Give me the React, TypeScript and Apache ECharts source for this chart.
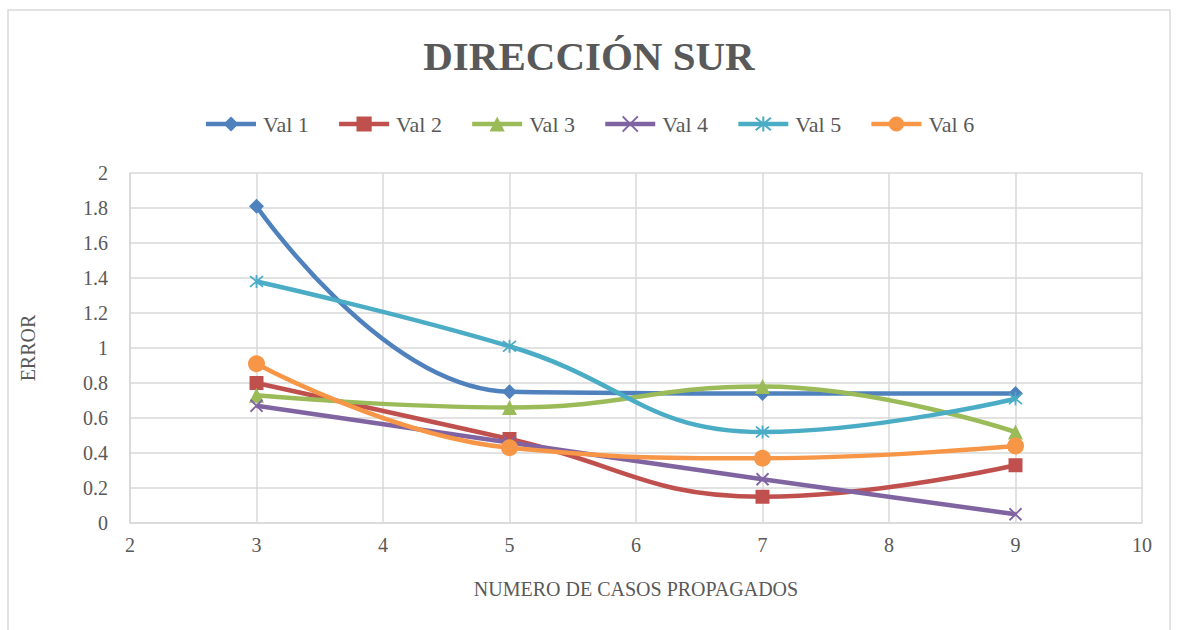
import React, { useEffect, useRef } from "react";
import * as echarts from "echarts";

const xValues = [3, 5, 7, 9];
const seriesNames = ["Val 1", "Val 2", "Val 3", "Val 4", "Val 5", "Val 6"];
const val1 = [1.81, 0.75, 0.74, 0.74];
const val2 = [0.8, 0.48, 0.15, 0.33];
const val3 = [0.73, 0.66, 0.78, 0.52];
const val4 = [0.67, 0.46, 0.25, 0.05];
const val5 = [1.38, 1.01, 0.52, 0.71];
const val6 = [0.91, 0.43, 0.37, 0.44];
const allValues = [val1, val2, val3, val4, val5, val6];
const colors = ["#4F81BD", "#C0504D", "#9BBB59", "#8064A2", "#4BACC6", "#F79646"];

const FONT = "'Liberation Serif', 'DejaVu Serif', serif";
const TEXT = "#595959";

const xPath = "path://M0,0L10,10M10,0L0,10";
const starPath = "path://M0,0L10,10M10,0L0,10M5,-1L5,11";

const symbols: any[] = ["diamond", "rect", "triangle", xPath, starPath, "circle"];
const symbolSizes = [15, 14, 15, 12, 13, 17];

export default function App() {
  const ref = useRef<HTMLDivElement>(null);
  useEffect(() => {
    document.body.style.margin = "0";
    const chart = echarts.init(ref.current!, null, { renderer: "svg" });
    const series = seriesNames.map((name, i) => {
      const stroked = i === 3 || i === 4;
      return {
        name,
        type: "line",
        smooth: 0.45,
        data: xValues.map((x, j) => [x, allValues[i][j]]),
        symbol: symbols[i],
        symbolSize: symbolSizes[i],
        showSymbol: true,
        lineStyle: { color: colors[i], width: 4.5 },
        itemStyle: stroked
          ? { color: colors[i], borderColor: colors[i], borderWidth: 1.8 }
          : { color: colors[i], borderWidth: 0 },
        emphasis: { disabled: true },
        z: 2 + i,
      };
    });
    chart.setOption({
      animation: false,
      backgroundColor: "#ffffff",
      title: {
        text: "DIRECCIÓN SUR",
        left: "center",
        top: 30,
        textStyle: { fontFamily: FONT, fontSize: 41, fontWeight: "bold", color: TEXT },
      },
      legend: {
        top: 108,
        left: "center",
        itemWidth: 50,
        itemHeight: 19,
        itemGap: 28,
        data: seriesNames,
        lineStyle: { width: 4.5 },
        textStyle: { fontFamily: FONT, fontSize: 22, color: TEXT, padding: [0, 0, 0, 2] },
      },
      grid: { left: 130, top: 173, right: 36, bottom: 107, containLabel: false },
      xAxis: {
        type: "value",
        min: 2,
        max: 10,
        interval: 1,
        name: "NUMERO DE CASOS PROPAGADOS",
        nameLocation: "middle",
        nameGap: 56,
        nameTextStyle: { fontFamily: FONT, fontSize: 20, color: TEXT },
        axisLine: { show: true, lineStyle: { color: "#d9d9d9", width: 1.5 } },
        axisTick: { show: false },
        axisLabel: { fontFamily: FONT, fontSize: 20, color: TEXT, margin: 12 },
        splitLine: { show: true, lineStyle: { color: "#d9d9d9", width: 1.5 } },
      },
      yAxis: {
        type: "value",
        min: 0,
        max: 2,
        interval: 0.2,
        name: "ERROR",
        nameLocation: "middle",
        nameGap: 92,
        nameRotate: 90,
        nameTextStyle: { fontFamily: FONT, fontSize: 20, color: TEXT },
        axisLine: { show: true, lineStyle: { color: "#d9d9d9", width: 1.5 } },
        axisTick: { show: false },
        axisLabel: { fontFamily: FONT, fontSize: 20, color: TEXT, margin: 22 },
        splitLine: { show: true, lineStyle: { color: "#d9d9d9", width: 1.5 } },
      },
      graphic: [
        {
          type: "rect",
          shape: { x: 8, y: 10, width: 1162, height: 640 },
          style: { fill: "none", stroke: "#d9d9d9", lineWidth: 1.5 },
          silent: true,
        },
      ],
      series,
    });
    return () => chart.dispose();
  }, []);
  return <div ref={ref} style={{ width: 1178, height: 630 }} />;
}
